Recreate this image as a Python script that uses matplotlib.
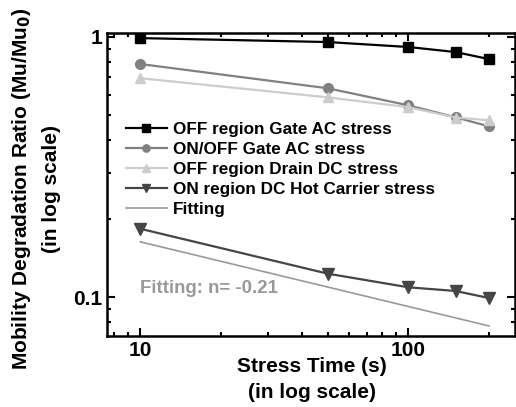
import matplotlib
matplotlib.use('Agg')
import matplotlib.pyplot as plt
from matplotlib.ticker import LogLocator, NullFormatter, FixedLocator, FixedFormatter

plt.rcParams['font.family'] = ['Liberation Sans', 'DejaVu Sans']
plt.rcParams['font.weight'] = 'bold'

t = [10, 50, 100, 150, 200]
off_gate_ac = [0.99, 0.956, 0.915, 0.875, 0.822]
onoff_gate_ac = [0.787, 0.635, 0.546, 0.491, 0.453]
off_drain_dc = [0.694, 0.586, 0.537, 0.49, 0.478]
on_hot_carrier = [0.183, 0.123, 0.109, 0.1055, 0.0991]
fit_t = [10, 200]
fit_y = [0.163, 0.0774]

labels = ['OFF region Gate AC stress', 'ON/OFF Gate AC stress',
          'OFF region Drain DC stress', 'ON region DC Hot Carrier stress', 'Fitting']

fig = plt.figure(figsize=(5.16, 4.07), dpi=100)
ax = fig.add_axes([0.207, 0.174, 0.791, 0.745])

ax.plot(t, off_gate_ac, color='black', lw=1.6, marker='s', ms=7, label=labels[0])
ax.plot(t, onoff_gate_ac, color='#808080', lw=1.6, marker='o', ms=7, label=labels[1])
ax.plot(t, off_drain_dc, color='#cccccc', lw=1.6, marker='^', ms=7, label=labels[2])
ax.plot(t, on_hot_carrier, color='#454545', lw=1.6, marker='v', ms=8, label=labels[3])
ax.plot(fit_t, fit_y, color='#999999', lw=1.2, label=labels[4])

ax.set_xscale('log')
ax.set_yscale('log')
ax.set_xlim(7.5, 250)
ax.set_ylim(0.0707, 1.036)

ax.xaxis.set_major_locator(FixedLocator([10, 100]))
ax.xaxis.set_major_formatter(FixedFormatter(['10', '100']))
ax.xaxis.set_minor_locator(LogLocator(base=10, subs=range(2, 10)))
ax.xaxis.set_minor_formatter(NullFormatter())
ax.yaxis.set_major_locator(FixedLocator([0.1, 1]))
ax.yaxis.set_major_formatter(FixedFormatter(['0.1', '1']))
ax.yaxis.set_minor_locator(LogLocator(base=10, subs=range(2, 10)))
ax.yaxis.set_minor_formatter(NullFormatter())

ax.tick_params(which='both', direction='in', top=True, right=True, width=1.5)
ax.tick_params(which='major', length=6, labelsize=15)
ax.tick_params(which='minor', length=3)
for s in ax.spines.values():
    s.set_linewidth(1.8)

ax.set_xlabel('Stress Time (s)\n(in log scale)', fontsize=15, fontweight='bold',
              linespacing=1.45)
ax.set_ylabel('Mobility Degradation Ratio (Mu/Mu$_\\mathbf{0}$)\n(in log scale)', fontsize=15,
              fontweight='bold', linespacing=1.55)
ax.xaxis.set_label_coords(0.502, -0.07)
ax.yaxis.set_label_coords(-0.113, 0.487)

ax.text(10, 0.104, 'Fitting: n= -0.21', color='#999999', fontsize=13.4, fontweight='bold')

ax.legend(loc='upper left', bbox_to_anchor=(0.025, 0.735), frameon=False, fontsize=12.3,
          handlelength=2.4, labelspacing=0.3, borderpad=0, handletextpad=0.35,
          markerscale=0.75)

fig.savefig('out.png', dpi=100)
